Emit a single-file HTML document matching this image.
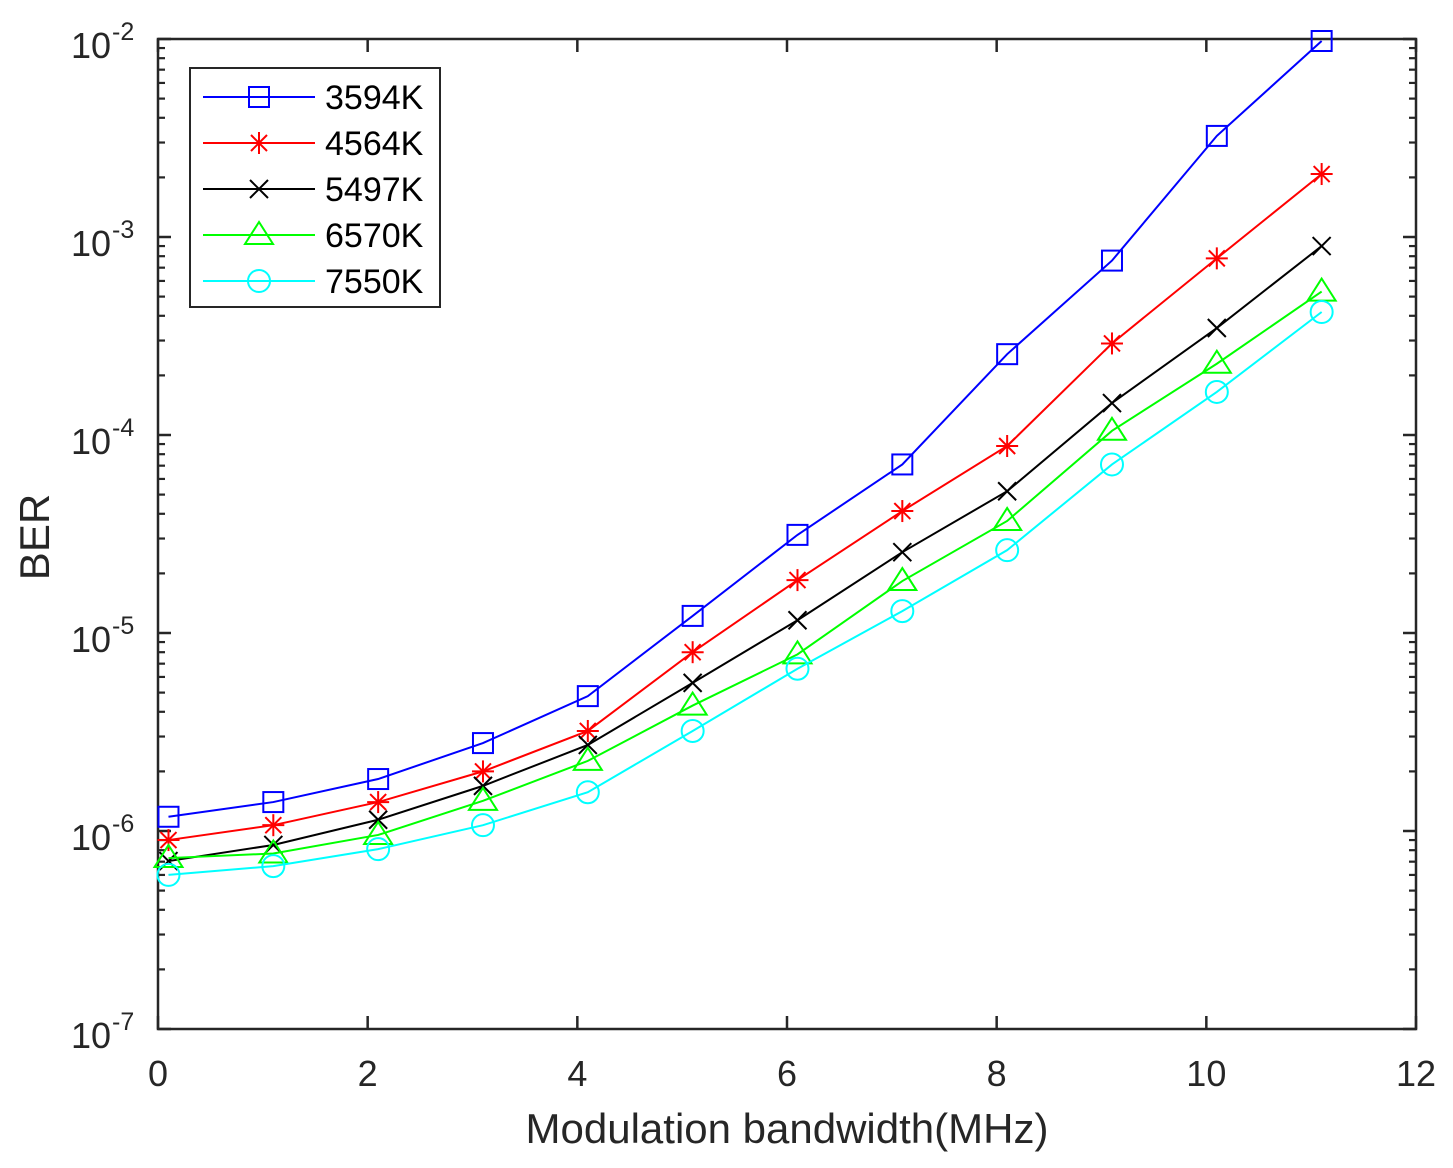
<!DOCTYPE html>
<html><head><meta charset="utf-8"><style>body{margin:0;background:#fff}svg{display:block;font-family:"Liberation Sans",Arial,sans-serif}</style></head>
<body>
<svg id="chart" width="1453" height="1168" xmlns="http://www.w3.org/2000/svg"></svg>
<script>
const xValues=[0.1,1.1,2.1,3.1,4.1,5.1,6.1,7.1,8.1,9.1,10.1,11.1];
const s3594=[1.18e-6,1.40e-6,1.83e-6,2.78e-6,4.8e-6,1.22e-5,3.13e-5,7.1e-5,2.56e-4,7.6e-4,3.24e-3,9.77e-3];
const s4564=[9.0e-7,1.07e-6,1.40e-6,2.0e-6,3.2e-6,8.0e-6,1.85e-5,4.13e-5,8.8e-5,2.9e-4,7.8e-4,2.08e-3];
const s5497=[7.05e-7,8.5e-7,1.14e-6,1.69e-6,2.72e-6,5.6e-6,1.16e-5,2.56e-5,5.2e-5,1.45e-4,3.47e-4,9.0e-4];
const s6570=[7.3e-7,7.7e-7,9.55e-7,1.42e-6,2.26e-6,4.3e-6,7.8e-6,1.83e-5,3.68e-5,1.05e-4,2.29e-4,5.3e-4];
const s7550=[6.0e-7,6.65e-7,8.1e-7,1.07e-6,1.57e-6,3.2e-6,6.6e-6,1.29e-5,2.62e-5,7.1e-5,1.65e-4,4.18e-4];
const seriesNames=["3594K","4564K","5497K","6570K","7550K"];
const xTicks=[0,2,4,6,8,10,12];
const yTickExps=[-2,-3,-4,-5,-6,-7];

const NS="http://www.w3.org/2000/svg";
const svg=document.getElementById('chart');
const L=158,R=1416,T=39,B=1029;
const xs=v=>L+(v-0)/12*(R-L);
const ys=v=>T+(-2-Math.log10(v))/5*(B-T);
function el(tag,attrs,parent){const e=document.createElementNS(NS,tag);for(const k in attrs)e.setAttribute(k,attrs[k]);(parent||svg).appendChild(e);return e;}

const axes=el('rect',{x:L,y:T,width:R-L,height:B-T,fill:'#fff',stroke:'#262626','stroke-width':2.5});



xTicks.forEach(t=>{
  const x=xs(t);
  el('line',{x1:x,y1:B,x2:x,y2:B-13,stroke:'#262626','stroke-width':2.5});
  el('line',{x1:x,y1:T,x2:x,y2:T+13,stroke:'#262626','stroke-width':2.5});
  const tx=el('text',{x:x,y:1086,'font-size':36,'text-anchor':'middle',fill:'#262626'});
  tx.textContent=t;
  
  
});
yTickExps.forEach(e=>{
  const y=ys(Math.pow(10,e));
  el('line',{x1:L,y1:y,x2:L+13,y2:y,stroke:'#262626','stroke-width':2.5});
  el('line',{x1:R,y1:y,x2:R-13,y2:y,stroke:'#262626','stroke-width':2.5});
  if(e>-7){for(let m=2;m<=9;m++){const yy=ys(m*Math.pow(10,e-1));
    el('line',{x1:L,y1:yy,x2:L+7,y2:yy,stroke:'#262626','stroke-width':2.2});
    el('line',{x1:R,y1:yy,x2:R-7,y2:yy,stroke:'#262626','stroke-width':2.2});}}
  const tx=el('text',{x:111,y:y+19,'font-size':36,'text-anchor':'end',fill:'#262626'});
  tx.textContent='10';
  
  
  const sup=el('text',{x:112,y:y+1,'font-size':25,'text-anchor':'start',fill:'#262626'});
  sup.textContent=String(e);
  
  
});
const xt=el('text',{x:787,y:1143,'font-size':42,'text-anchor':'middle',fill:'#262626'});
xt.textContent='Modulation bandwidth(MHz)';


const yt=el('text',{x:49,y:537,'font-size':42,'text-anchor':'middle',fill:'#262626',transform:'rotate(-90 49 537)'});
yt.textContent='BER';



function marker(kind,x,y,c,g){
  const sw=2;
  if(kind==='s')el('rect',{x:x-10,y:y-10,width:20,height:20,fill:'none',stroke:c,'stroke-width':sw},g);
  else if(kind==='o')el('circle',{cx:x,cy:y,r:11,fill:'none',stroke:c,'stroke-width':sw},g);
  else if(kind==='^')el('polygon',{points:`${x},${y-13} ${x-14},${y+9} ${x+14},${y+9}`,fill:'none',stroke:c,'stroke-width':sw},g);
  else if(kind==='x'){el('line',{x1:x-9,y1:y-9,x2:x+9,y2:y+9,stroke:c,'stroke-width':sw},g);el('line',{x1:x-9,y1:y+9,x2:x+9,y2:y-9,stroke:c,'stroke-width':sw},g);}
  else if(kind==='*'){el('line',{x1:x-11,y1:y,x2:x+11,y2:y,stroke:c,'stroke-width':sw},g);el('line',{x1:x,y1:y-11,x2:x,y2:y+11,stroke:c,'stroke-width':sw},g);
    el('line',{x1:x-8,y1:y-8,x2:x+8,y2:y+8,stroke:c,'stroke-width':sw},g);el('line',{x1:x-8,y1:y+8,x2:x+8,y2:y-8,stroke:c,'stroke-width':sw},g);}
}
const allSeries=[s3594,s4564,s5497,s6570,s7550];
const colors=['#0000ff','#ff0000','#000000','#00ff00','#00ffff'];
const kinds=['s','*','x','^','o'];
allSeries.forEach((s,i)=>{
  const g=el('g',{});
  
  
  el('polyline',{points:s.map((v,j)=>xs(xValues[j])+','+ys(v)).join(' '),fill:'none',stroke:colors[i],'stroke-width':2},g);
  s.forEach((v,j)=>marker(kinds[i],xs(xValues[j]),ys(v),colors[i],g));
});
const lg=el('g',{});


el('rect',{x:190,y:68,width:250,height:239,fill:'#fff',stroke:'#262626','stroke-width':2},lg);
seriesNames.forEach((n,i)=>{
  const y=97+i*46;
  const e=el('g',{},lg);
  
  
  el('line',{x1:203,y1:y,x2:315,y2:y,stroke:colors[i],'stroke-width':2},e);
  marker(kinds[i],259,y,colors[i],e);
  const t=el('text',{x:325,y:y+12,'font-size':34,fill:'#000'},e);
  t.textContent=n;
});
</script>
</body></html>
